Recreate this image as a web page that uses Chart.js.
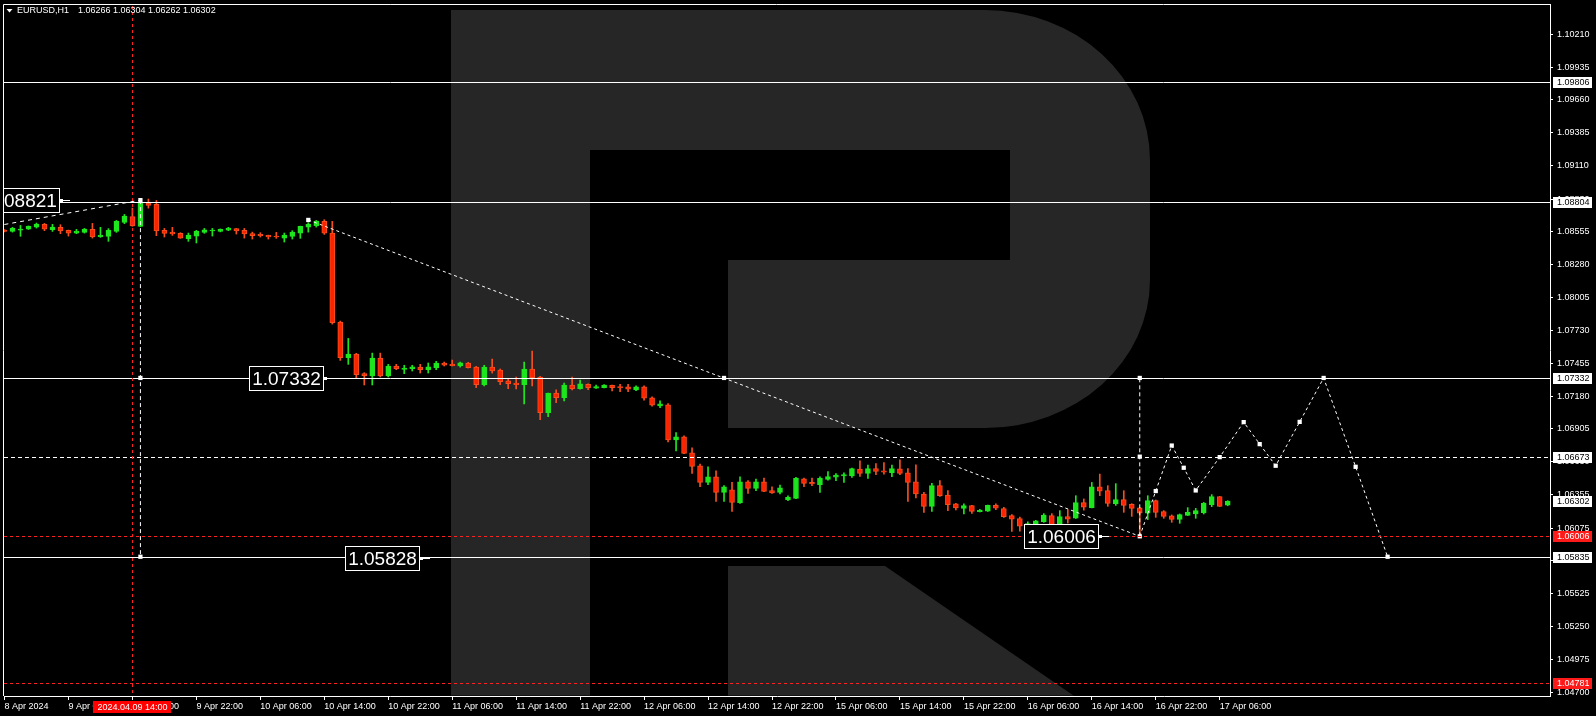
<!DOCTYPE html>
<html>
<head>
<meta charset="utf-8">
<title>EURUSD,H1</title>
<script src="https://cdn.jsdelivr.net/npm/chart.js@4.4.1/dist/chart.umd.min.js"></script>
<style>
  html, body { margin: 0; padding: 0; background: #000; overflow: hidden; }
  #chart { display: block; background: #000; }
</style>
</head>
<body>
<canvas id="chart" width="1596" height="716"></canvas>
<script>
// EURUSD H1 candles, bar 0 = 8 Apr 22:00 ... bar 153 = 17 Apr 07:00
const opens = [
  1.08570,1.08559,1.08570,1.08578,1.08595,1.08618,1.08573,1.08593,1.08568,1.08545,
  1.08551,1.08576,1.08515,1.08518,1.08559,1.08634,1.08684,1.08601,1.08796,1.08785,
  1.08568,1.08553,1.08543,1.08498,1.08520,1.08551,1.08562,1.08559,1.08570,1.08582,
  1.08568,1.08540,1.08534,1.08526,1.08520,1.08503,1.08518,1.08545,1.08595,1.08607,
  1.08643,1.08545,1.07799,1.07501,1.07532,1.07368,1.07348,1.07499,1.07348,1.07432,
  1.07404,1.07409,1.07423,1.07401,1.07415,1.07457,1.07449,1.07432,1.07457,1.07423,
  1.07276,1.07423,1.07398,1.07307,1.07290,1.07276,1.07407,1.07340,1.07042,1.07206,
  1.07167,1.07273,1.07242,1.07279,1.07246,1.07251,1.07271,1.07259,1.07257,1.07232,
  1.07257,1.07165,1.07098,1.07106,1.06814,1.06839,1.06705,1.06597,1.06457,1.06505,
  1.06374,1.06396,1.06288,1.06463,1.06407,1.06463,1.06388,1.06374,1.06313,1.06324,
  1.06488,1.06457,1.06438,1.06482,1.06502,1.06511,1.06511,1.06569,1.06533,1.06574,
  1.06555,1.06538,1.06572,1.06538,1.06463,1.06360,1.06257,1.06430,1.06352,1.06277,
  1.06240,1.06263,1.06213,1.06217,1.06265,1.06238,1.06179,1.06154,1.06090,1.06100,
  1.06129,1.06179,1.06090,1.06171,1.06157,1.06288,1.06246,1.06421,1.06388,1.06279,
  1.06313,1.06274,1.06244,1.06199,1.06305,1.06213,1.06177,1.06148,1.06182,1.06193,
  1.06204,1.06271,1.06338,1.06266
];
const highs = [
  1.08575,1.08593,1.08609,1.08605,1.08629,1.08626,1.08618,1.08615,1.08570,1.08576,
  1.08584,1.08626,1.08593,1.08582,1.08651,1.08701,1.08754,1.08821,1.08830,1.08818,
  1.08584,1.08593,1.08548,1.08545,1.08568,1.08584,1.08584,1.08580,1.08593,1.08584,
  1.08584,1.08553,1.08548,1.08528,1.08551,1.08545,1.08565,1.08603,1.08632,1.08651,
  1.08657,1.08643,1.07808,1.07663,1.07538,1.07376,1.07540,1.07540,1.07446,1.07446,
  1.07438,1.07438,1.07446,1.07457,1.07471,1.07465,1.07482,1.07465,1.07463,1.07429,
  1.07438,1.07490,1.07407,1.07321,1.07340,1.07465,1.07557,1.07345,1.07206,1.07232,
  1.07290,1.07340,1.07315,1.07282,1.07273,1.07276,1.07273,1.07279,1.07279,1.07267,
  1.07265,1.07173,1.07140,1.07117,1.06875,1.06847,1.06747,1.06611,1.06588,1.06555,
  1.06430,1.06457,1.06505,1.06472,1.06486,1.06494,1.06421,1.06436,1.06346,1.06499,
  1.06494,1.06494,1.06505,1.06547,1.06532,1.06538,1.06578,1.06639,1.06603,1.06616,
  1.06624,1.06603,1.06647,1.06574,1.06605,1.06374,1.06449,1.06472,1.06388,1.06282,
  1.06277,1.06265,1.06232,1.06268,1.06277,1.06249,1.06188,1.06167,1.06127,1.06140,
  1.06196,1.06196,1.06221,1.06229,1.06346,1.06319,1.06457,1.06527,1.06430,1.06447,
  1.06388,1.06279,1.06249,1.06346,1.06310,1.06221,1.06185,1.06193,1.06246,1.06240,
  1.06290,1.06355,1.06340,1.06304
];
const lows = [
  1.08555,1.08553,1.08518,1.08575,1.08587,1.08565,1.08559,1.08540,1.08520,1.08540,
  1.08545,1.08503,1.08509,1.08476,1.08551,1.08624,1.08602,1.08598,1.08754,1.08523,
  1.08512,1.08526,1.08501,1.08476,1.08462,1.08543,1.08520,1.08555,1.08565,1.08537,
  1.08503,1.08495,1.08512,1.08495,1.08501,1.08470,1.08495,1.08501,1.08553,1.08595,
  1.08534,1.07783,1.07479,1.07446,1.07334,1.07273,1.07273,1.07340,1.07340,1.07401,
  1.07368,1.07390,1.07373,1.07373,1.07401,1.07432,1.07432,1.07423,1.07415,1.07251,
  1.07265,1.07373,1.07276,1.07242,1.07240,1.07115,1.07265,1.06983,1.07008,1.07125,
  1.07140,1.07232,1.07237,1.07234,1.07244,1.07248,1.07223,1.07217,1.07217,1.07226,
  1.07145,1.07095,1.07084,1.06797,1.06722,1.06698,1.06533,1.06421,1.06438,1.06299,
  1.06299,1.06215,1.06282,1.06366,1.06388,1.06380,1.06366,1.06360,1.06305,1.06322,
  1.06421,1.06430,1.06374,1.06477,1.06472,1.06457,1.06499,1.06507,1.06491,1.06522,
  1.06527,1.06505,1.06522,1.06299,1.06327,1.06207,1.06215,1.06340,1.06221,1.06227,
  1.06193,1.06198,1.06210,1.06215,1.06229,1.06165,1.06048,1.06050,1.06060,1.06095,
  1.06123,1.06040,1.06088,1.06117,1.06155,1.06225,1.06244,1.06346,1.06257,1.06265,
  1.06207,1.06173,1.06006,1.06146,1.06165,1.06157,1.06123,1.06115,1.06180,1.06157,
  1.06193,1.06254,1.06255,1.06262
];
const closes = [
  1.08559,1.08584,1.08578,1.08601,1.08620,1.08578,1.08595,1.08562,1.08545,1.08562,
  1.08578,1.08512,1.08528,1.08568,1.08643,1.08687,1.08604,1.08796,1.08776,1.08562,
  1.08543,1.08537,1.08503,1.08528,1.08559,1.08573,1.08570,1.08576,1.08587,1.08562,
  1.08537,1.08523,1.08523,1.08512,1.08512,1.08528,1.08553,1.08601,1.08618,1.08645,
  1.08545,1.07794,1.07501,1.07532,1.07359,1.07351,1.07499,1.07348,1.07432,1.07409,
  1.07415,1.07426,1.07401,1.07426,1.07457,1.07440,1.07434,1.07459,1.07418,1.07276,
  1.07423,1.07390,1.07301,1.07284,1.07276,1.07407,1.07334,1.07042,1.07206,1.07167,
  1.07273,1.07242,1.07282,1.07251,1.07259,1.07273,1.07251,1.07251,1.07237,1.07257,
  1.07162,1.07104,1.07115,1.06814,1.06839,1.06700,1.06591,1.06457,1.06505,1.06374,
  1.06421,1.06290,1.06463,1.06407,1.06463,1.06382,1.06369,1.06413,1.06332,1.06491,
  1.06449,1.06444,1.06491,1.06507,1.06519,1.06522,1.06574,1.06533,1.06574,1.06549,
  1.06544,1.06574,1.06533,1.06457,1.06360,1.06257,1.06430,1.06346,1.06271,1.06243,
  1.06263,1.06215,1.06224,1.06265,1.06242,1.06171,1.06150,1.06090,1.06112,1.06135,
  1.06183,1.06087,1.06171,1.06150,1.06288,1.06250,1.06421,1.06384,1.06282,1.06313,
  1.06265,1.06240,1.06199,1.06305,1.06207,1.06173,1.06148,1.06188,1.06207,1.06221,
  1.06282,1.06338,1.06257,1.06302
];

// time axis
const tickBars = [0, 8, 16, 24, 32, 40, 48, 56, 64, 72, 80, 88, 96, 104, 112, 120, 128, 136, 144, 152];
const tickLabels = ['8 Apr 2024', '9 Apr 06:00', '9 Apr 14:00', '9 Apr 22:00', '10 Apr 06:00', '10 Apr 14:00',
  '10 Apr 22:00', '11 Apr 06:00', '11 Apr 14:00', '11 Apr 22:00', '12 Apr 06:00', '12 Apr 14:00',
  '12 Apr 22:00', '15 Apr 06:00', '15 Apr 14:00', '15 Apr 22:00', '16 Apr 06:00', '16 Apr 14:00',
  '16 Apr 22:00', '17 Apr 06:00'];
// price axis
const yTicks = [1.10210, 1.09935, 1.09660, 1.09385, 1.09110, 1.08830, 1.08555, 1.08280, 1.08005, 1.07730,
  1.07455, 1.07180, 1.06905, 1.06630, 1.06355, 1.06075, 1.05800, 1.05525, 1.05250, 1.04975, 1.04700];

// levels and tags
const solidLevels = [1.09806, 1.08804, 1.07332, 1.05835];
const dashedLevels = [1.06673];
const redLevels = [1.06006, 1.04781];
const whiteTags = [1.09806, 1.08804, 1.07332, 1.06673, 1.06302, 1.05835];
const redTags = [1.06006, 1.04781];
const crossBar = 16;
const crossLabel = '2024.04.09 14:00';

// analysis lines (bar index / price)
const leftLineX = [-1, 17], leftLineY = [1.08605, 1.08821];
const trendX = [38, 142], trendY = [1.08655, 1.06006];
const peakX = [17, 17], peakY = [1.08821, 1.05835];
const baseX = [142, 142], baseY = [1.06006, 1.07332];
const forecastX = [142, 144, 146, 147.5, 149, 152, 155, 157, 159, 162, 165, 169, 173];
const forecastY = [1.06006, 1.06385, 1.06766, 1.06580, 1.06390, 1.06669, 1.06962, 1.06778, 1.06597, 1.06964, 1.07332, 1.06588, 1.05835];
const markerX = [17, 17, 17, 38, 90, 142, 142];
const markerY = [1.08821, 1.07332, 1.05835, 1.08655, 1.07332, 1.07332, 1.06673];
const bigLabelX = [6.8, 39.8, 51.8, 136.8];
const bigLabelY = [1.08821, 1.07332, 1.05828, 1.06006];

const BULL = '#1ee61e';
const BEAR = '#ff2200';
const BEAR_EDGE = '#f4501e';
const FONT = '"Liberation Sans", Arial, sans-serif';

const up = closes.map((c, i) => c >= opens[i]);
const pts = (xs, ys) => xs.map((x, i) => ({ x: x, y: ys[i] }));

const dashLine = (xs, ys, dash) => ({
  type: 'line', data: pts(xs, ys), borderColor: '#ffffff', borderWidth: 1,
  borderDash: dash, pointRadius: 0, fill: false, tension: 0, order: 2
});

// logo in the background
const watermark = {
  id: 'watermark',
  beforeDatasetsDraw(chart) {
    const { ctx, chartArea: a } = chart;
    ctx.save();
    ctx.beginPath();
    ctx.rect(a.left, a.top, a.right - a.left, a.bottom - a.top - 0.5);
    ctx.clip();
    ctx.fillStyle = '#262626';
    ctx.beginPath();
    ctx.moveTo(451, 10);
    ctx.lineTo(985, 10);
    ctx.ellipse(985, 160, 165, 150, 0, -Math.PI / 2, 0, false);
    ctx.lineTo(1150, 280);
    ctx.ellipse(985, 280, 165, 148, 0, 0, Math.PI / 2, false);
    ctx.lineTo(728, 428);
    ctx.lineTo(728, 260);
    ctx.lineTo(1010, 260);
    ctx.lineTo(1010, 150);
    ctx.lineTo(590, 150);
    ctx.lineTo(590, 700);
    ctx.lineTo(451, 700);
    ctx.closePath();
    ctx.fill();
    ctx.beginPath();
    ctx.moveTo(728, 566);
    ctx.lineTo(885, 566);
    ctx.lineTo(1080, 700);
    ctx.lineTo(728, 700);
    ctx.closePath();
    ctx.fill();
    ctx.restore();
  }
};

const overlay = {
  id: 'overlay',
  afterDatasetsDraw(chart) {
    const { ctx, chartArea: a, scales: { x, y } } = chart;
    ctx.save();
    ctx.beginPath();
    ctx.rect(a.left, a.top, a.right - a.left, a.bottom - a.top);
    ctx.clip();
    const hline = (p, color, dash) => {
      const py = Math.round(y.getPixelForValue(p)) + 0.5;
      ctx.strokeStyle = color;
      ctx.lineWidth = 1;
      ctx.setLineDash(dash);
      ctx.beginPath();
      ctx.moveTo(a.left, py);
      ctx.lineTo(a.right, py);
      ctx.stroke();
    };
    solidLevels.forEach(p => hline(p, '#ffffff', []));
    dashedLevels.forEach(p => hline(p, '#ffffff', [4, 3]));
    redLevels.forEach(p => hline(p, '#ff2020', [3, 3]));

    // crosshair
    const cx = Math.round(x.getPixelForValue(crossBar)) + 0.5;
    ctx.strokeStyle = '#ff2020';
    ctx.setLineDash([3, 3]);
    ctx.beginPath();
    ctx.moveTo(cx, 0);
    ctx.lineTo(cx, a.bottom);
    ctx.stroke();
    ctx.setLineDash([]);

    // price labels on the chart
    ctx.font = '19px ' + FONT;
    ctx.textAlign = 'center';
    ctx.textBaseline = 'middle';
    bigLabelY.forEach((p, k) => {
      const right = Math.round(x.getPixelForValue(bigLabelX[k]));
      const cy = Math.round(y.getPixelForValue(p));
      const w = 74, h = 24;
      const left = right - w;
      ctx.fillStyle = '#000000';
      ctx.fillRect(left, cy - h / 2, w, h);
      ctx.strokeStyle = '#ffffff';
      ctx.lineWidth = 1;
      ctx.strokeRect(left + 0.5, cy - h / 2 + 0.5, w, h);
      ctx.fillStyle = '#ffffff';
      ctx.fillText(p.toFixed(5), left + w / 2 + 0.5, cy + 1.5);
      ctx.fillRect(right + 1, cy - 1, 3, 3);
      ctx.fillRect(right + 4, cy, 7, 1);
    });
    ctx.restore();
  },
  afterDraw(chart) {
    const { ctx, chartArea: a, scales: { x, y } } = chart;
    ctx.save();
    // frame
    ctx.strokeStyle = '#ffffff';
    ctx.lineWidth = 1;
    ctx.beginPath();
    ctx.moveTo(a.left - 0.5, a.bottom);
    ctx.lineTo(a.left - 0.5, a.top + 0.5);
    ctx.lineTo(a.right, a.top + 0.5);
    ctx.stroke();

    // tags on the price axis
    ctx.font = '9px ' + FONT;
    ctx.textAlign = 'left';
    ctx.textBaseline = 'middle';
    const tag = (p, bg, fg) => {
      const cy = Math.round(y.getPixelForValue(p));
      ctx.fillStyle = bg;
      ctx.fillRect(a.right + 3, cy - 5, 39, 11);
      ctx.fillStyle = fg;
      ctx.fillText(p.toFixed(5), a.right + 7, cy + 0.5);
    };
    whiteTags.forEach(p => tag(p, '#ffffff', '#000000'));
    redTags.forEach(p => tag(p, '#ff1a1a', '#ffffff'));

    // crosshair time label
    const cx = Math.round(x.getPixelForValue(crossBar));
    ctx.fillStyle = '#ff0000';
    ctx.fillRect(cx - 39, a.bottom + 5, 78, 12);
    ctx.fillStyle = '#ffffff';
    ctx.textAlign = 'center';
    ctx.fillText(crossLabel, cx + 0.5, a.bottom + 11.5);

    // header
    const last = closes.length - 1;
    ctx.beginPath();
    ctx.moveTo(6.5, 9);
    ctx.lineTo(12.5, 9);
    ctx.lineTo(9.5, 12.5);
    ctx.closePath();
    ctx.fill();
    ctx.textAlign = 'left';
    ctx.fillText('EURUSD,H1', 17, 11);
    ctx.fillText([opens[last], highs[last], lows[last], closes[last]].map(v => v.toFixed(5)).join(' '), 78, 11);
    ctx.restore();
  }
};

const ctx = document.getElementById('chart').getContext('2d');

new Chart(ctx, {
  type: 'bar',
  data: {
    datasets: [
      {
        type: 'bar',
        data: highs.map((h, i) => ({ x: i, y: [lows[i], h] })),
        backgroundColor: up.map(u => u ? BULL : BEAR_EDGE),
        borderWidth: 0,
        grouped: false,
        maxBarThickness: 1,
        barPercentage: 1,
        categoryPercentage: 1,
        order: 5
      },
      {
        type: 'bar',
        data: opens.map((o, i) => ({ x: i, y: [o, closes[i]] })),
        backgroundColor: up.map(u => u ? BULL : BEAR),
        borderColor: up.map(u => u ? BULL : BEAR_EDGE),
        borderWidth: 1,
        borderSkipped: false,
        grouped: false,
        maxBarThickness: 5,
        barPercentage: 1,
        categoryPercentage: 1,
        minBarLength: 1,
        order: 4
      },
      dashLine(leftLineX, leftLineY, [4, 4]),
      dashLine(trendX, trendY, [3, 3]),
      dashLine(peakX, peakY, [4, 3]),
      dashLine(baseX, baseY, [4, 3]),
      dashLine(forecastX, forecastY, [3, 3]),
      {
        type: 'line',
        data: pts(markerX.concat(forecastX), markerY.concat(forecastY)),
        showLine: false,
        pointStyle: 'rect',
        pointRadius: 3,
        pointBackgroundColor: '#ffffff',
        pointBorderWidth: 0,
        order: 1
      }
    ]
  },
  options: {
    responsive: false,
    animation: false,
    devicePixelRatio: 1,
    layout: { padding: { left: 3, top: 2, right: 0, bottom: 0 } },
    plugins: {
      legend: { display: false },
      tooltip: { enabled: false }
    },
    scales: {
      x: {
        type: 'linear',
        min: -0.0625,
        max: 193.3125,
        offset: false,
        afterBuildTicks: s => { s.ticks = tickBars.map(v => ({ value: v })); },
        afterFit: s => { s.height = 20; s.paddingLeft = 0; s.paddingRight = 0; },
        ticks: {
          autoSkip: false,
          maxRotation: 0,
          align: 'start',
          padding: 1,
          color: '#ffffff',
          font: { family: 'Liberation Sans', size: 9 },
          callback: v => tickLabels[tickBars.indexOf(v)]
        },
        grid: { display: true, offset: false, drawOnChartArea: false, drawTicks: true, tickLength: 4, color: '#ffffff' },
        border: { display: true, color: '#ffffff' }
      },
      y: {
        position: 'right',
        min: 1.04669,
        max: 1.10463,
        beginAtZero: false,
        afterBuildTicks: s => { s.ticks = yTicks.map(v => ({ value: v })); },
        afterFit: s => { s.width = 46; s.paddingTop = 0; s.paddingBottom = 0; },
        ticks: {
          autoSkip: false,
          padding: 4,
          color: '#ffffff',
          font: { family: 'Liberation Sans', size: 9 },
          callback: v => v.toFixed(5)
        },
        grid: { display: true, drawOnChartArea: false, drawTicks: true, tickLength: 3, color: '#ffffff' },
        border: { display: true, color: '#ffffff' }
      }
    }
  },
  plugins: [watermark, overlay]
});
</script>
</body>
</html>
